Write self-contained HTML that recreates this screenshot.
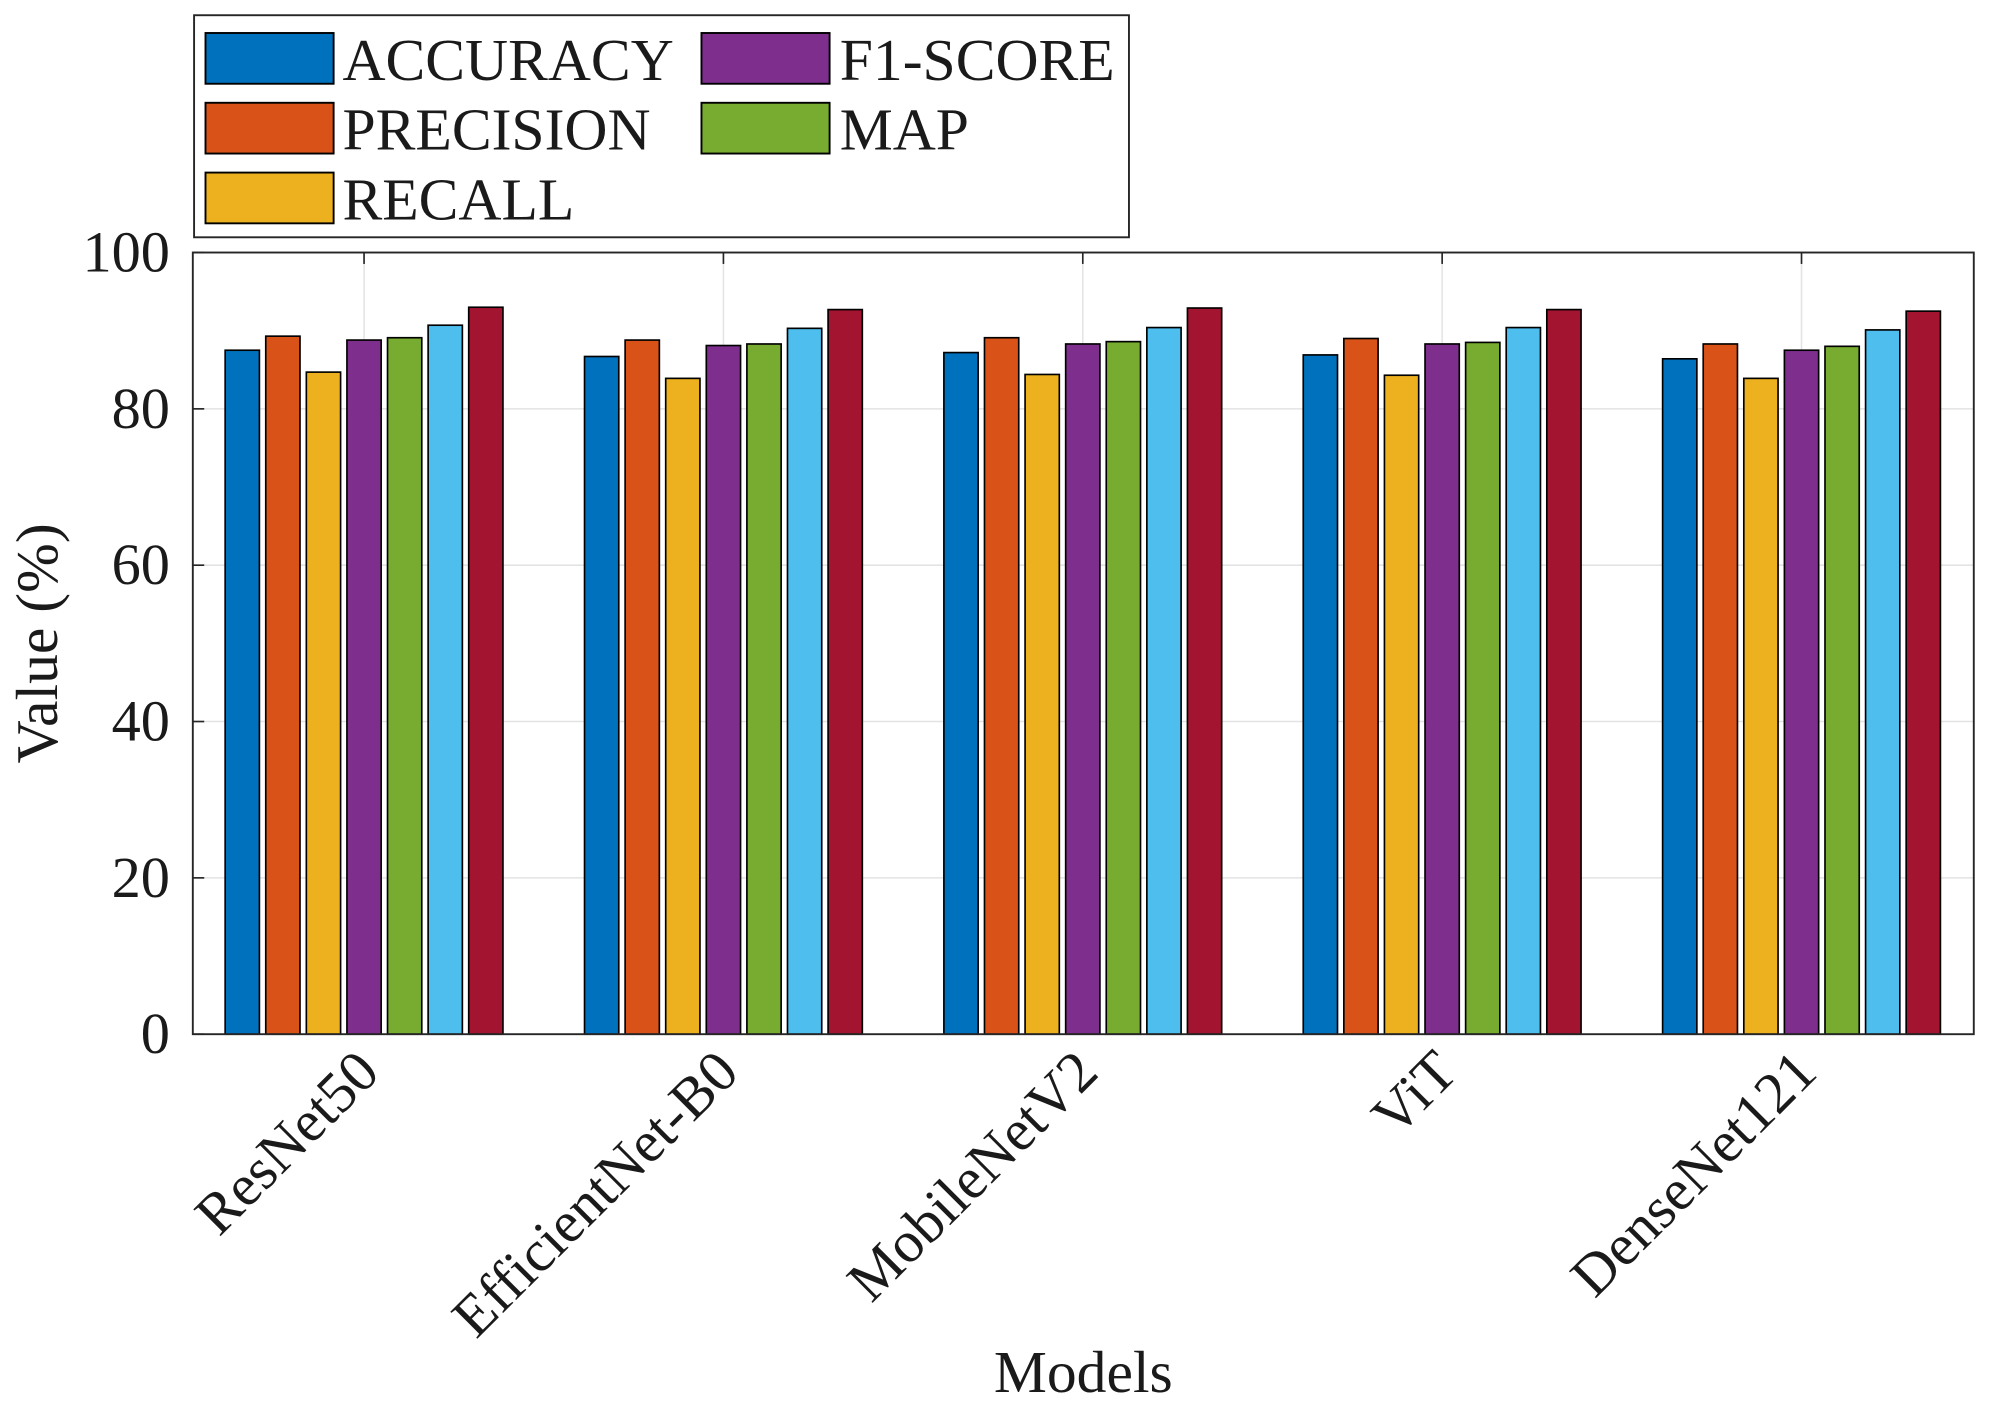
<!DOCTYPE html>
<html><head><meta charset="utf-8"><style>
html,body{margin:0;padding:0;background:#fff;}
svg{display:block;}
text{font-family:"Liberation Serif",serif;fill:#1a1a1a;}
</style></head><body>
<svg id="chart" width="1989" height="1406" viewBox="0 0 1568 1108" preserveAspectRatio="none" xmlns="http://www.w3.org/2000/svg">
<g id="grid"></g>
<g id="bars"></g>
<g id="axes"></g>
<text transform="translate(45,507) rotate(-90)" text-anchor="middle" font-size="47">Value (%)</text>
<text x="854" y="1097" text-anchor="middle" font-size="47">Models</text>
<g>
<rect x="153" y="12" width="737" height="175" fill="#fff" stroke="#262626" stroke-width="1.5"/>
<g><rect x="162" y="26" width="101" height="40" fill="#0072BD" stroke="#000" stroke-width="1.5"/><text x="270" y="63" font-size="47">ACCURACY</text></g>
<g><rect x="162" y="81" width="101" height="40" fill="#D95319" stroke="#000" stroke-width="1.5"/><text x="270" y="118" font-size="47">PRECISION</text></g>
<g><rect x="162" y="136" width="101" height="40" fill="#EDB120" stroke="#000" stroke-width="1.5"/><text x="270" y="173" font-size="47">RECALL</text></g>
<g><rect x="553" y="26" width="101" height="40" fill="#7E2F8E" stroke="#000" stroke-width="1.5"/><text x="662" y="63" font-size="47">F1-SCORE</text></g>
<g><rect x="553" y="81" width="101" height="40" fill="#77AC30" stroke="#000" stroke-width="1.5"/><text x="662" y="118" font-size="47">MAP</text></g>
</g>
</svg>
<script>
const categories = ["ResNet50","EfficientNet-B0","MobileNetV2","ViT","DenseNet121"];
const accuracy  = [87.5, 86.7, 87.2, 86.9, 86.4];
const precision = [89.3, 88.8, 89.1, 89.0, 88.3];
const recall    = [84.7, 83.9, 84.4, 84.3, 83.9];
const f1score   = [88.8, 88.1, 88.3, 88.3, 87.5];
const mapScore  = [89.1, 88.3, 88.6, 88.5, 88.0];
const series6   = [90.7, 90.3, 90.4, 90.4, 90.1];
const series7   = [93.0, 92.7, 92.9, 92.7, 92.5];
const yTicks = [0, 20, 40, 60, 80, 100];

const series = [accuracy, precision, recall, f1score, mapScore, series6, series7];
const colors = ["#0072BD","#D95319","#EDB120","#7E2F8E","#77AC30","#4DBEEE","#A2142F"];
const NS = "http://www.w3.org/2000/svg";
const L = 152, R = 1556, T = 199, B = 815;
const X0 = 287, DX = 283.3;
const xs = i => X0 + i * DX;
const ys = v => B - (v / 100) * (B - T);
function mk(tag, attrs, parent){ const e = document.createElementNS(NS, tag); for (const k in attrs) e.setAttribute(k, attrs[k]); parent.appendChild(e); return e; }
const grid = document.getElementById('grid'), bars = document.getElementById('bars'), axes = document.getElementById('axes');

yTicks.forEach(t => {
  const y = ys(t);
  if (t > 0 && t < 100) {
    const g = mk('line', {x1:L, x2:R, y1:y, y2:y, stroke:'#e3e3e3', 'stroke-width':1.2}, grid);
    
    
  }
  const tk = mk('line', {x1:L, x2:L+9, y1:y, y2:y, stroke:'#262626', 'stroke-width':1.3}, axes);
  
  
  const lb = mk('text', {x:134, y:y+15, 'text-anchor':'end', 'font-size':46}, axes);
  lb.textContent = t;
  
  
});
categories.forEach((c, i) => {
  const x = xs(i);
  const g = mk('line', {x1:x, x2:x, y1:T, y2:B, stroke:'#e3e3e3', 'stroke-width':1.2}, grid);
  
  
  const tk = mk('line', {x1:x, x2:x, y1:T, y2:T+9, stroke:'#262626', 'stroke-width':1.3}, axes);
  
  
  const lb = mk('text', {'text-anchor':'end', 'font-size':46, transform:`translate(${x+14},${B+32}) rotate(-45)`}, axes);
  lb.textContent = c;
  
  
});
const slot = 32, bw = 27;
series.forEach((s, k) => {
  s.forEach((v, i) => {
    const cx = xs(i) + (k - 3) * slot;
    const r = mk('rect', {x:cx - bw/2, y:ys(v), width:bw, height:ys(0) - ys(v), fill:colors[k], stroke:'#000', 'stroke-width':1.3}, bars);
    
    
  });
});
const box = mk('rect', {x:L, y:T, width:R-L, height:B-T, fill:'none', stroke:'#262626', 'stroke-width':1.5}, axes);


</script>
</body></html>
